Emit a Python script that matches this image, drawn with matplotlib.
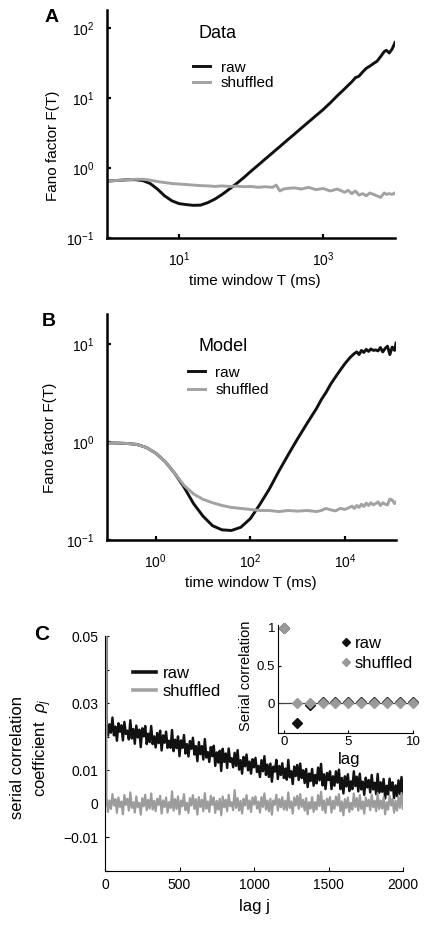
import numpy as np
import matplotlib
matplotlib.use("Agg")
import matplotlib.pyplot as plt
from matplotlib.ticker import NullLocator
from matplotlib.lines import Line2D

plt.rcParams['font.family'] = ['Liberation Sans', 'DejaVu Sans']
plt.rcParams['mathtext.fontset'] = 'custom'
plt.rcParams['mathtext.rm'] = 'Liberation Sans'
plt.rcParams['mathtext.it'] = 'Liberation Sans:italic'

BLACK = '#111111'
GREY = '#a2a2a2'

# ---- panel A (data): log10 of time window, Fano factor
logT_a = [0.0, 0.1, 0.2, 0.3, 0.4, 0.5, 0.6, 0.7, 0.8, 0.9, 1.0, 1.1, 1.2, 1.3, 1.4,
          1.5, 1.6, 1.7, 1.8, 1.9, 2.0, 2.1, 2.2, 2.3, 2.35, 2.4, 2.45, 2.5, 2.6, 2.7,
          2.8, 2.9, 3.0, 3.1, 3.2, 3.3, 3.35, 3.4, 3.45, 3.5, 3.55, 3.6, 3.65, 3.7,
          3.75, 3.8, 3.85, 3.88, 3.92, 3.96, 4.0]
fano_raw_a = [0.65, 0.66, 0.67, 0.68, 0.68, 0.66, 0.60, 0.50, 0.40, 0.34, 0.31, 0.30,
              0.293, 0.295, 0.32, 0.36, 0.42, 0.50, 0.60, 0.73, 0.90, 1.10, 1.35, 1.65,
              1.83, 2.02, 2.24, 2.48, 3.03, 3.72, 4.55, 5.57, 6.8, 8.5, 10.8, 13.5, 15.2,
              17.0, 19.5, 20.5, 23.5, 26.5, 28.5, 31.0, 33.5, 39.0, 46.0, 48.0, 44.0,
              50.0, 62.0]
fano_shuf_a = [0.65, 0.66, 0.67, 0.68, 0.69, 0.69, 0.67, 0.64, 0.62, 0.60, 0.59, 0.58,
               0.57, 0.56, 0.555, 0.545, 0.555, 0.545, 0.55, 0.54, 0.545, 0.53, 0.54,
               0.53, 0.57, 0.47, 0.50, 0.51, 0.52, 0.50, 0.53, 0.49, 0.51, 0.47, 0.50,
               0.45, 0.48, 0.43, 0.47, 0.41, 0.43, 0.40, 0.44, 0.42, 0.40, 0.38, 0.44,
               0.42, 0.43, 0.42, 0.44]

# ---- panel B (model)
logT_b = [-1.03, -0.8, -0.6, -0.4, -0.2, 0.0, 0.2, 0.4, 0.6, 0.8, 1.0, 1.2, 1.4, 1.6,
          1.8, 2.0, 2.2, 2.4, 2.6, 2.8, 3.0, 3.2, 3.4, 3.5, 3.6, 3.7, 3.8, 3.9, 4.0,
          4.1, 4.15, 4.2, 4.25, 4.3, 4.35, 4.4, 4.45, 4.5, 4.55, 4.6, 4.65, 4.7, 4.75,
          4.8, 4.85, 4.9, 4.95, 5.0, 5.05, 5.08]
fano_raw_b = [0.98, 0.975, 0.965, 0.945, 0.88, 0.77, 0.63, 0.48, 0.345, 0.235, 0.175,
              0.14, 0.127, 0.125, 0.135, 0.165, 0.23, 0.33, 0.50, 0.74, 1.08, 1.55, 2.2,
              2.7, 3.2, 3.9, 4.6, 5.4, 6.3, 7.2, 7.6, 8.0, 8.3, 7.8, 8.6, 8.2, 8.8, 8.4,
              8.9, 8.6, 8.7, 8.5, 9.2, 8.3, 9.0, 9.5, 7.8, 9.3, 8.6, 10.2]
fano_shuf_b = [0.98, 0.975, 0.965, 0.945, 0.88, 0.77, 0.63, 0.48, 0.36, 0.295, 0.26,
               0.24, 0.225, 0.215, 0.21, 0.205, 0.20, 0.20, 0.195, 0.20, 0.197, 0.20,
               0.195, 0.20, 0.21, 0.203, 0.198, 0.21, 0.205, 0.215, 0.222, 0.21, 0.225,
               0.215, 0.232, 0.22, 0.238, 0.225, 0.24, 0.228, 0.235, 0.245, 0.225, 0.24,
               0.232, 0.228, 0.262, 0.255, 0.235, 0.245]

# ---- panel C: serial correlation vs lag (values in units of 1e-3, lag step 10)
lag_c = np.arange(0, 2001, 10)
rho_raw_c = np.array([
    1000.0,
    25.1, 20.3, 23.7, 21.2, 25.7, 20.4, 23.0, 18.8, 24.0, 21.5,
    23.4, 18.9, 24.4, 20.8, 21.8, 19.2, 24.9, 19.5, 22.3, 17.9,
    23.3, 19.8, 22.1, 16.9, 22.5, 20.1, 23.2, 17.8, 20.9, 18.4,
    23.2, 17.8, 20.1, 16.8, 21.1, 18.1, 21.8, 15.9, 20.4, 18.2,
    21.5, 16.7, 18.8, 16.7, 22.0, 15.7, 19.1, 16.6, 20.1, 14.2,
    18.9, 16.7, 20.5, 15.0, 17.8, 14.1, 18.7, 16.4, 19.7, 14.7,
    17.2, 12.7, 18.4, 14.8, 17.2, 13.2, 19.3, 13.8, 15.4, 12.5,
    16.9, 14.2, 17.3, 11.3, 15.3, 12.3, 15.8, 9.8, 16.4, 12.5,
    15.0, 10.7, 16.5, 12.5, 13.6, 10.9, 15.2, 11.3, 16.0, 10.2,
    13.0, 9.0, 14.0, 11.2, 14.7, 10.0, 12.6, 9.0, 13.3, 10.9,
    13.7, 9.5, 11.3, 8.0, 13.0, 9.7, 14.2, 8.6, 11.7, 8.0,
    12.0, 6.6, 11.1, 9.6, 13.1, 7.4, 11.3, 8.6, 12.1, 7.7,
    10.5, 7.2, 13.1, 7.9, 9.7, 5.9, 11.1, 8.3, 11.6, 7.1,
    12.0, 7.7, 10.0, 6.2, 10.4, 5.0, 9.0, 6.8, 10.4, 5.4,
    8.6, 6.1, 10.8, 7.0, 11.9, 5.5, 8.8, 4.4, 9.2, 7.1,
    9.7, 4.4, 8.2, 5.4, 9.7, 6.3, 10.2, 4.4, 7.7, 3.1,
    8.2, 5.2, 8.8, 3.8, 6.7, 4.4, 9.7, 5.3, 8.1, 3.7,
    9.0, 4.3, 6.6, 2.7, 7.8, 4.9, 7.1, 3.4, 8.6, 4.3,
    6.3, 2.9, 8.9, 3.3, 6.4, 3.6, 7.4, 1.6, 5.4, 2.8,
    7.5, 4.0, 6.4, 1.7, 5.5, 2.3, 7.0, 2.9, 8.0, 2.5]) * 1e-3
rho_shuf_c = np.array([
    1000.0,
    2.0, -2.4, 1.0, -1.5, 2.9, -0.5, 1.4, -2.7, 1.9, -0.9,
    0.7, -3.1, 2.6, -0.3, 1.5, -2.0, 3.4, -1.2, 0.5, -2.6,
    2.2, -1.0, 0.3, -3.2, 1.7, -0.7, 2.7, -1.9, 1.2, -1.4,
    3.1, -1.7, 0.9, -2.2, 1.5, -0.3, 2.4, -2.9, 1.0, -0.9,
    1.9, -2.6, 0.5, -1.2, 3.7, -2.0, 1.4, -1.5, 2.2, -3.1,
    1.0, -0.7, 2.9, -1.9, 0.3, -2.7, 1.7, -0.5, 2.6, -1.5,
    1.4, -3.2, 2.0, -0.9, 1.2, -2.2, 3.2, -1.4, 0.7, -2.4,
    2.4, -0.3, 1.9, -2.7, 0.9, -1.7, 1.5, -3.4, 2.2, -1.0,
    1.2, -2.2, 2.7, -0.7, 0.5, -1.9, 4.1, -1.2, 1.7, -2.0,
    0.9, -2.9, 1.5, -0.5, 2.6, -1.5, 1.0, -2.4, 1.9, -0.2,
    2.2, -1.4, 0.7, -2.6, 2.0, -0.9, 3.1, -1.7, 1.0, -2.2,
    1.5, -3.2, 1.0, -0.3, 2.7, -2.0, 1.4, -1.0, 2.0, -1.7,
    0.9, -1.9, 3.4, -1.2, 0.7, -2.9, 1.9, -0.5, 2.4, -1.5,
    2.9, -0.9, 1.2, -2.0, 1.7, -3.1, 0.5, -1.4, 2.0, -2.4,
    0.5, -1.7, 2.6, -0.7, 3.6, -1.9, 1.0, -2.7, 1.5, -0.3,
    2.0, -2.6, 0.9, -1.5, 2.2, -0.5, 2.9, -2.2, 0.7, -3.4,
    1.4, -1.2, 1.9, -2.4, 0.3, -1.7, 3.1, -0.9, 1.7, -2.0,
    2.6, -1.5, 0.7, -2.9, 1.9, -0.7, 1.2, -1.9, 2.7, -1.0,
    0.9, -2.2, 3.2, -1.5, 1.0, -1.4, 2.0, -3.1, 0.5, -1.7,
    2.4, -0.5, 1.5, -2.6, 0.9, -2.0, 2.2, -1.2, 3.2, -1.5]) * 1e-3

# ---- inset: short lags
lag_in = list(range(11))
rho_raw_in = [1.0, -0.26, -0.03, 0.02, 0.02, 0.02, 0.02, 0.02, 0.02, 0.02, 0.02]
rho_shuf_in = [1.0, 0.0, 0.0, 0.0, 0.0, 0.0, 0.0, 0.0, 0.0, 0.0, 0.0]

W, H = 428, 925
fig = plt.figure(figsize=(W / 100, H / 100), dpi=100)


def box(left, right, top, bottom):
    # pixel box -> figure fraction
    return [left / W, 1 - bottom / H, (right - left) / W, (bottom - top) / H]


def style_log(ax):
    for s in ['top', 'right']:
        ax.spines[s].set_visible(False)
    for s in ['left', 'bottom']:
        ax.spines[s].set_linewidth(1.8)
    ax.tick_params(direction='in', length=3, width=1.6, labelsize=10, pad=9)
    ax.xaxis.set_minor_locator(NullLocator())
    ax.yaxis.set_minor_locator(NullLocator())


# ---------------- A
ax_a = fig.add_axes(box(107, 395, 10, 238))
ax_a.plot(10 ** np.array(logT_a), fano_raw_a, color=BLACK, lw=2.1, label='raw')
ax_a.plot(10 ** np.array(logT_a), fano_shuf_a, color=GREY, lw=2.1, label='shuffled')
ax_a.set_xscale('log')
ax_a.set_yscale('log')
ax_a.set_xlim(1, 1e4)
ax_a.set_ylim(0.1, 10 ** 2.257)
ax_a.set_xticks([10, 1000])
ax_a.set_yticks([0.1, 1, 10, 100])
style_log(ax_a)
ax_a.legend(loc='upper left', bbox_to_anchor=(0.299, 0.778), frameon=False, borderpad=0,
            borderaxespad=0, handlelength=1.1, handletextpad=0.7, labelspacing=0.1,
            fontsize=11)
ax_a.text(0.385, 0.899, 'Data', transform=ax_a.transAxes, ha='center', va='center',
          fontsize=13)
ax_a.text(-0.1875, 0.404, 'Fano factor F(T)', transform=ax_a.transAxes, rotation=90,
          ha='center', va='center', fontsize=11)
ax_a.text(0.512, -0.189, 'time window T (ms)', transform=ax_a.transAxes, ha='center',
          va='center', fontsize=11)

# ---------------- B
ax_b = fig.add_axes(box(107, 396, 314, 540))
ax_b.plot(10 ** np.array(logT_b), fano_raw_b, color=BLACK, lw=2.1, label='raw')
ax_b.plot(10 ** np.array(logT_b), fano_shuf_b, color=GREY, lw=2.1, label='shuffled')
ax_b.set_xscale('log')
ax_b.set_yscale('log')
ax_b.set_xlim(10 ** -1.03, 10 ** 5.08)
ax_b.set_ylim(0.1, 10 ** 1.306)
ax_b.set_xticks([1, 100, 1e4])
ax_b.set_yticks([0.1, 1, 10])
style_log(ax_b)
ax_b.legend(loc='upper left', bbox_to_anchor=(0.28, 0.772), frameon=False, borderpad=0,
            borderaxespad=0, handlelength=1.1, handletextpad=0.7, labelspacing=0.25,
            fontsize=11)
ax_b.text(0.401, 0.854, 'Model', transform=ax_b.transAxes, ha='center', va='center',
          fontsize=13)
ax_b.text(-0.197, 0.451, 'Fano factor F(T)', transform=ax_b.transAxes, rotation=90,
          ha='center', va='center', fontsize=11)
ax_b.text(0.497, -0.19, 'time window T (ms)', transform=ax_b.transAxes, ha='center',
          va='center', fontsize=11)

# ---------------- C
ax_c = fig.add_axes(box(105, 403, 636, 871))
ax_c.plot(lag_c, rho_raw_c, color=BLACK, lw=1.75, label='raw')
ax_c.plot(lag_c, rho_shuf_c, color='#9c9c9c', lw=1.6, label='shuffled')
ax_c.set_xlim(0, 2000)
ax_c.set_ylim(-0.02, 0.05)
ax_c.set_xticks([0, 500, 1000, 1500, 2000])
ax_c.set_yticks([-0.02, -0.01, 0, 0.01, 0.02, 0.03, 0.04, 0.05])
ax_c.set_yticklabels(['', '\u22120.01', '0', '0.01', '', '0.03', '', '0.05'])
for s in ['top', 'right']:
    ax_c.spines[s].set_visible(False)
ax_c.tick_params(direction='in', length=3, width=0.8, labelsize=10, pad=5)
leg_handles = [Line2D([], [], color=BLACK, lw=2.6), Line2D([], [], color=GREY, lw=2.6)]
ax_c.legend(leg_handles, ['raw', 'shuffled'], loc='upper left',
            bbox_to_anchor=(0.094, 0.873), frameon=False, borderpad=0, borderaxespad=0,
            handlelength=1.4, handletextpad=0.4, labelspacing=0.2, fontsize=12)
ax_c.text(-0.295, 0.485, 'serial correlation', transform=ax_c.transAxes, rotation=90,
          ha='center', va='center', fontsize=12)
ax_c.text(-0.208, 0.523, 'coefficient  $\\rho_j$', transform=ax_c.transAxes, rotation=90,
          ha='center', va='center', fontsize=12)
ax_c.text(0.503, -0.153, 'lag j', transform=ax_c.transAxes, ha='center', va='center',
          fontsize=12)

# ---------------- inset
ax_i = fig.add_axes(box(278, 413, 625, 733))
ax_i.axhline(0, color='#444444', lw=0.9)
ax_i.plot(lag_in, rho_raw_in, ls='none', marker='D', ms=5, color=BLACK, clip_on=False,
          label='raw')
ax_i.plot(lag_in, rho_shuf_in, ls='none', marker='D', ms=5, color='#999999',
          clip_on=False, label='shuffled')
ax_i.set_xlim(-0.45, 10)
ax_i.set_ylim(-0.4, 1.04)
ax_i.set_xticks([0, 5, 10])
ax_i.set_yticks([0, 0.5, 1])
ax_i.set_yticklabels(['0', '0.5', '1'])
for s in ['top', 'right']:
    ax_i.spines[s].set_visible(False)
ax_i.tick_params(direction='in', length=2, width=0.8, labelsize=9.5, pad=2)
ax_i.legend(loc='upper left', bbox_to_anchor=(0.47, 0.90), frameon=False, borderpad=0,
            borderaxespad=0, handlelength=0.6, handletextpad=0.2, labelspacing=0.3,
            fontsize=12, markerscale=0.8)
ax_i.text(0.53, -0.245, 'lag', transform=ax_i.transAxes, ha='center', va='center',
          fontsize=12)
ax_i.text(-0.235, 0.53, 'Serial correlation', transform=ax_i.transAxes, rotation=90,
          ha='center', va='center', fontsize=10.5)

# panel letters
fig.text(52 / W, 1 - 18 / H, 'A', ha='center', va='center', fontsize=14, fontweight='bold')
fig.text(49 / W, 1 - 322 / H, 'B', ha='center', va='center', fontsize=14, fontweight='bold')
fig.text(42 / W, 1 - 635 / H, 'C', ha='center', va='center', fontsize=15, fontweight='bold')

fig.savefig('out.png', dpi=100)
